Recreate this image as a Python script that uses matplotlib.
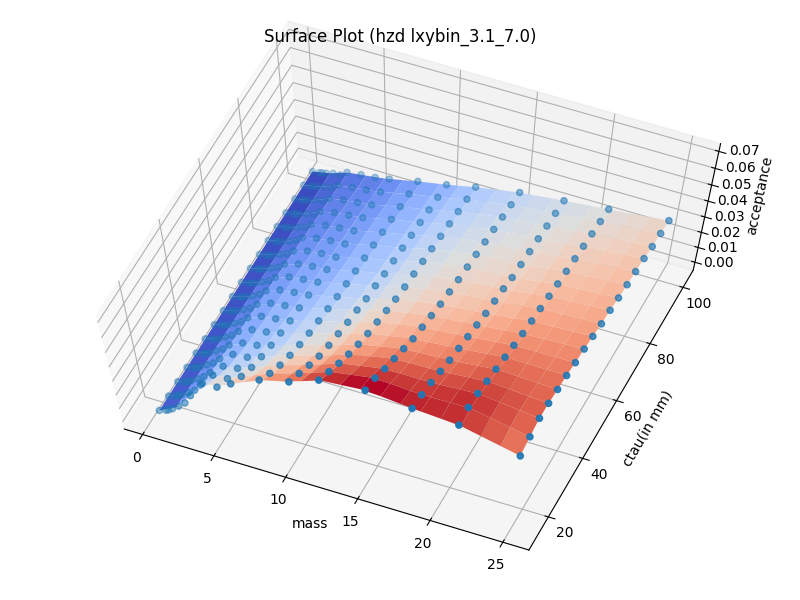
import numpy as np
import matplotlib
matplotlib.use("Agg")
import matplotlib.pyplot as plt

mass = [0.5, 1, 1.2, 1.5, 2, 2.5, 3, 4, 5, 6, 8, 10, 12, 15, 18, 21, 25]
ctau = [15, 20, 25, 30, 35, 40, 45, 50, 55, 60, 65, 70, 75, 80, 85, 90, 95, 100]

# acceptance x 1000, one list per mass, ordered by ctau
acc_m0p5 = [.93,.87,.83,.79,.75,.72,.70,.67,.65,.63,.61,.60,.58,.57,.55,.54,.52,.5]
acc_m1 = [2.7,2.5,2.3,2.1,2.0,1.9,1.8,1.7,1.6,1.5,1.4,1.4,1.3,1.3,1.2,1.1,1.1,1.0]
acc_m1p2 = [3.6,3.4,3.1,2.9,2.8,2.6,2.5,2.4,2.3,2.2,2.1,2.0,1.9,1.8,1.8,1.7,1.6,1.5]
acc_m1p5 = [5.4,5,4.6,4.3,4,3.8,3.6,3.4,3.2,3,2.9,2.8,2.6,2.5,2.4,2.3,2.1,2]
acc_m2 = [9,8.2,7.8,7.4,7,6.6,6.2,5.8,5.4,5.2,4.9,4.6,4.3,4.1,3.8,3.6,3.4,3.2]
acc_m2p5 = [13,11.5,10.8,10.2,9.7,9.2,8.7,8.2,7.8,7.3,6.9,6.4,6,5.5,5,4.6,4.1,3.5]
acc_m3 = [20,17.1,15.4,14.8,14.2,13.6,13,12.4,11.8,11.2,10.6,10,9.4,8.8,8.2,7.6,7,6.4]
acc_m4 = [32,27.2,23,21,18.7,17.8,17,16.1,15.3,14.4,13.5,12.7,11.8,11,10.1,9.3,8.4,7.6]
acc_m5 = [32.5,27.9,24.6,22,20.1,19.2,18.3,17.4,16.5,15.6,14.7,13.8,12.9,12,11.1,10.2,9.3,8.4]
acc_m6 = [38,32.6,28.4,25.5,23.2,21.5,19.8,18.7,17.6,16.6,15.4,14.2,13.5,12.8,12.1,11.4,10.7,10]
acc_m8 = [47,41,36.2,32.6,29.7,27.4,25.7,24,22.3,21.2,20.1,19.2,18.3,17.4,16.5,15.6,14.7,13.8]
acc_m10 = [52,47.2,42.4,38.2,35.3,33,30.7,29,26.7,25.6,23.9,22.9,21.9,20.9,19.9,18.9,17.9,16.9]
acc_m12 = [59.5,54.7,49.9,45.7,42.1,39.2,36.9,34.6,32.3,30.6,29.5,28.2,27,25.7,24.5,23.2,22,20.7]
acc_m15 = [62,59.6,55.4,51.8,48.2,44.6,42.3,40,37.7,36,34.3,33,31.7,30.4,29.1,27.8,26.5,25.2]
acc_m18 = [59,57.6,55.3,52.4,49.5,47.2,44.9,42.6,40.3,38.6,36.9,34.6,33.5,32.4,31.3,30.2,29.1,28]
acc_m21 = [57,58.4,57.3,55,52.7,50.4,48.1,45.8,44.1,42.4,40.7,39,37.6,36.2,34.8,33.4,32,30.6]
acc_m25 = [48,50.6,52.7,52.3,51.2,50.2,48.5,47.4,45.7,44,43,41.3,40.2,39.1,38,36.3,35.3,34.2]

columns = [acc_m0p5, acc_m1, acc_m1p2, acc_m1p5, acc_m2, acc_m2p5, acc_m3, acc_m4, acc_m5,
           acc_m6, acc_m8, acc_m10, acc_m12, acc_m15, acc_m18, acc_m21, acc_m25]
Z = np.array(columns) / 1000.0
M, C = np.meshgrid(mass, ctau, indexing="ij")

# regular grid for the surface, resampled from the measured table
gm = np.linspace(min(mass), max(mass), 20)
gc = np.array(ctau, dtype=float)
ZS = np.array([[np.interp(m, mass, Z[:, j]) for m in gm] for j in range(len(ctau))])
GM, GC = np.meshgrid(gm, gc)

fig = plt.figure(figsize=(8, 6), dpi=100)
ax = fig.add_axes([-0.025, -0.015, 1.05, 1.03], projection="3d")
ax.apply_aspect = lambda position=None: None
ax.set_box_aspect((1, 1, 1), zoom=0.909)
ax.plot_surface(GM, GC, ZS, cmap="coolwarm", linewidth=0, antialiased=True)
ax.scatter(M.ravel(), C.ravel(), Z.ravel())
ax.set_xlabel("mass")
ax.set_ylabel("ctau(in mm)")
ax.set_zlabel("acceptance")
ax.set_zlim(-0.0054, 0.0745)
ax.set_title("Surface Plot (hzd lxybin_3.1_7.0)", y=0.983)
ax.view_init(elev=69, azim=-67)
fig.savefig("out.png", dpi=100)
